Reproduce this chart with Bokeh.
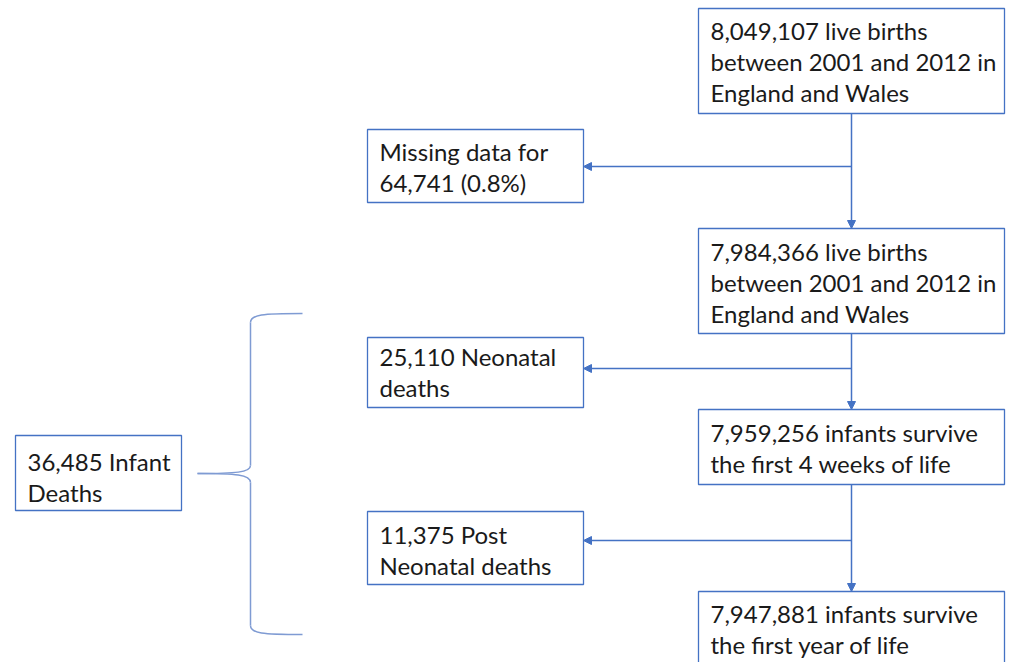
from bokeh.plotting import figure
from bokeh.models import Range1d, Arrow, NormalHead
from bokeh.core.properties import value
from bokeh.embed import file_html
from bokeh.resources import INLINE

# ---- content ----
box_texts = [
    ["8,049,107 live births", "between 2001 and 2012 in", "England and Wales"],
    ["Missing data for", "64,741 (0.8%)"],
    ["7,984,366 live births", "between 2001 and 2012 in", "England and Wales"],
    ["25,110 Neonatal", "deaths"],
    ["7,959,256 infants survive", "the first 4 weeks of life"],
    ["36,485 Infant", "Deaths"],
    ["11,375 Post", "Neonatal deaths"],
    ["7,947,881 infants survive", "the first year of life"],
]

# ---- layout (screen pixels: left, top, right, bottom) ----
boxes = [
    (698, 8, 1004, 113),
    (367, 129, 583, 202),
    (698, 228, 1004, 333),
    (367, 337, 583, 407),
    (698, 409, 1004, 484),
    (15, 435, 181, 510),
    (367, 511, 583, 584),
    (698, 591, 1004, 675),
]
first_line_y = [30, 151, 251, 356, 432, 461, 534, 613]
line_gap = 31
text_pad = 12

BLUE = "#4472C4"
FONT = "Lato"

W, H = 1009, 662
p = figure(width=W, height=H, output_backend="svg", toolbar_location=None,
           x_range=Range1d(0, W), y_range=Range1d(H, 0),
           min_border=0, outline_line_color=None)
p.axis.visible = False
p.grid.visible = False
p.background_fill_color = "white"

# boxes
p.quad(left=[b[0] for b in boxes], right=[b[2] for b in boxes],
       top=[b[1] for b in boxes], bottom=[b[3] for b in boxes],
       fill_color="white", line_color=BLUE, line_width=1.3)

# texts
xs, ys, ts = [], [], []
for b, lines, y0 in zip(boxes, box_texts, first_line_y):
    for i, t in enumerate(lines):
        xs.append(b[0] + text_pad)
        ys.append(y0 + i * line_gap)
        ts.append(t)
p.text(x=xs, y=ys, text=ts, text_font=value(FONT), text_font_size="24px",
       text_color="#1a1a1a", text_baseline="middle", text_align="left")

# connectors
vx = 851
segments_v = [(113, 228), (333, 409), (484, 591)]
branch_y = [166, 368, 540]
for (y0, y1), by in zip(segments_v, branch_y):
    p.add_layout(Arrow(end=NormalHead(size=8, fill_color=BLUE, line_color=BLUE),
                       x_start=vx, y_start=y0, x_end=vx, y_end=y1,
                       line_color=BLUE, line_width=1.5))
    p.add_layout(Arrow(end=NormalHead(size=8, fill_color=BLUE, line_color=BLUE),
                       x_start=vx, y_start=by, x_end=583, y_end=by,
                       line_color=BLUE, line_width=1.5))

# brace
bx = 250
p.bezier(x0=[302, bx, 197, bx], y0=[313, 465, 473, 625],
         x1=[bx, 197, bx, 302], y1=[322, 473, 482, 634],
         cx0=[262, bx, 235, bx], cy0=[313, 472, 473, 633],
         cx1=[bx, 235, bx, 262], cy1=[314, 473, 474, 634],
         line_color="#7F9BD3", line_width=1.5)
p.segment(x0=[bx, bx], y0=[322, 482], x1=[bx, bx], y1=[465, 625],
          line_color="#7F9BD3", line_width=1.5)

open("out.html", "w").write(file_html(p, INLINE))
